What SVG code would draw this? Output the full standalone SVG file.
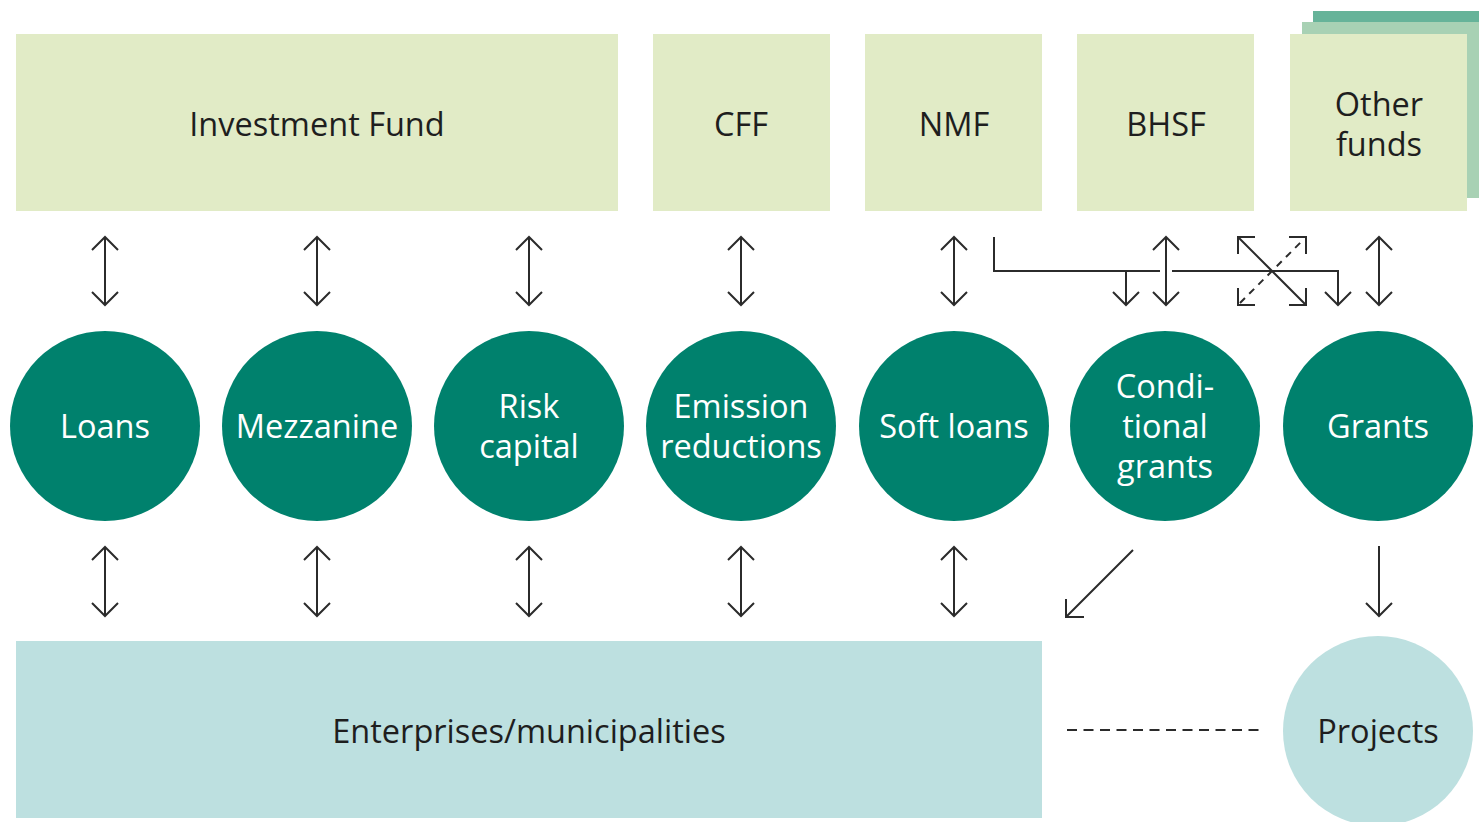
<svg xmlns="http://www.w3.org/2000/svg" width="1479" height="822" viewBox="0 0 1479 822">
<style>
.fund{fill:#e1ebc6}
.circ{fill:#00816d}
.light{fill:#bde0e0}
.t{font-family:"Open Sans","Noto Sans",sans-serif;font-size:32.5px;text-anchor:middle;dominant-baseline:central}
.dark{fill:#1e1e1e}
.white{fill:#ffffff}
.ln{stroke:#2b2b2b;stroke-width:2;fill:none}
.dash{stroke-dasharray:10 6.5}
.dash2{stroke-dasharray:7 6}
</style>
<defs>
<marker id="v" viewBox="0 0 30 30" refX="15" refY="15" markerWidth="30" markerHeight="30" markerUnits="userSpaceOnUse" orient="auto-start-reverse">
<path d="M2,2 L15,15 L2,28" fill="none" stroke="#2b2b2b" stroke-width="2"/>
</marker>
</defs>
<rect width="1479" height="822" fill="#ffffff"/>

<g id="investment-fund"><rect class="fund" x="16" y="34" width="602" height="177"/><text class="t dark" x="317" y="123">Investment Fund</text></g>
<g id="cff"><rect class="fund" x="653" y="34" width="177" height="177"/><text class="t dark" x="741" y="123">CFF</text></g>
<g id="nmf"><rect class="fund" x="865" y="34" width="177" height="177"/><text class="t dark" x="954" y="123">NMF</text></g>
<g id="bhsf"><rect class="fund" x="1077" y="34" width="177" height="177"/><text class="t dark" x="1166" y="123">BHSF</text></g>
<g id="other-funds">
<rect x="1313" y="11" width="170" height="20" fill="#66b399"/>
<rect x="1302" y="22" width="180" height="176" fill="#a8d1b4"/>
<rect class="fund" x="1290" y="34" width="177" height="177"/>
<text class="t dark"><tspan x="1379" y="103">Other</tspan><tspan x="1379" y="143">funds</tspan></text></g>

<g id="loans"><circle class="circ" cx="105" cy="426" r="95"/><text class="t white" x="105" y="425">Loans</text></g>
<g id="mezzanine"><circle class="circ" cx="317" cy="426" r="95"/><text class="t white" x="317" y="425">Mezzanine</text></g>
<g id="risk-capital"><circle class="circ" cx="529" cy="426" r="95"/><text class="t white"><tspan x="529" y="405">Risk</tspan><tspan x="529" y="445">capital</tspan></text></g>
<g id="emission-reductions"><circle class="circ" cx="741" cy="426" r="95"/><text class="t white"><tspan x="741" y="405">Emission</tspan><tspan x="741" y="445">reductions</tspan></text></g>
<g id="soft-loans"><circle class="circ" cx="954" cy="426" r="95"/><text class="t white" x="954" y="425">Soft loans</text></g>
<g id="conditional-grants"><circle class="circ" cx="1165" cy="426" r="95"/><text class="t white"><tspan x="1165" y="385">Condi-</tspan><tspan x="1165" y="425">tional</tspan><tspan x="1165" y="465">grants</tspan></text></g>
<g id="grants"><circle class="circ" cx="1378" cy="426" r="95"/><text class="t white" x="1378" y="425">Grants</text></g>

<g id="enterprises"><rect class="light" x="16" y="641" width="1026" height="177"/><text class="t dark" x="529" y="730">Enterprises/municipalities</text></g>
<g id="projects"><circle class="light" cx="1378" cy="731" r="95"/><text class="t dark" x="1378" y="730">Projects</text></g>

<g id="connectors">
<g class="ln">
<line x1="105" y1="237" x2="105" y2="305" marker-start="url(#v)" marker-end="url(#v)"/>
<line x1="317" y1="237" x2="317" y2="305" marker-start="url(#v)" marker-end="url(#v)"/>
<line x1="529" y1="237" x2="529" y2="305" marker-start="url(#v)" marker-end="url(#v)"/>
<line x1="741" y1="237" x2="741" y2="305" marker-start="url(#v)" marker-end="url(#v)"/>
<line x1="954" y1="237" x2="954" y2="305" marker-start="url(#v)" marker-end="url(#v)"/>
<line x1="1166" y1="237" x2="1166" y2="305" marker-start="url(#v)" marker-end="url(#v)"/>
<line x1="1379" y1="237" x2="1379" y2="305" marker-start="url(#v)" marker-end="url(#v)"/>

<line x1="105" y1="547" x2="105" y2="616" marker-start="url(#v)" marker-end="url(#v)"/>
<line x1="317" y1="547" x2="317" y2="616" marker-start="url(#v)" marker-end="url(#v)"/>
<line x1="529" y1="547" x2="529" y2="616" marker-start="url(#v)" marker-end="url(#v)"/>
<line x1="741" y1="547" x2="741" y2="616" marker-start="url(#v)" marker-end="url(#v)"/>
<line x1="954" y1="547" x2="954" y2="616" marker-start="url(#v)" marker-end="url(#v)"/>
<line x1="1379" y1="546" x2="1379" y2="616" marker-end="url(#v)"/>

<polyline points="994,237 994,271 1160,271"/>
<polyline points="1172,271 1338,271 1338,305" marker-end="url(#v)"/>
<polyline points="1126,271 1126,305" marker-end="url(#v)"/>

<path d="M1238,237 L1306,305 M1255,237 H1238 V254 M1289,305 H1306 V288"/>
<path d="M1240,303 L1304,239" class="dash2"/>
<path d="M1289,237 H1306 V254 M1255,305 H1238 V288"/>

<path d="M1133,550 L1066,617 M1066,599 V617 H1084"/>
<line x1="1067" y1="730" x2="1262" y2="730" class="dash"/>
</g>
</g>
</svg>
